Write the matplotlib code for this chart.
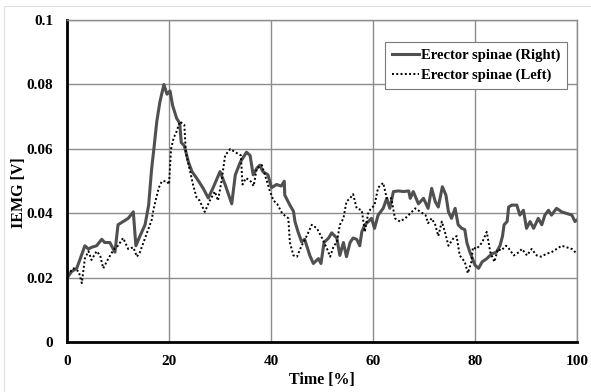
import matplotlib
matplotlib.use('Agg')
import matplotlib.pyplot as plt
from matplotlib.patches import Rectangle

# Erector spinae (Right) - time [%], IEMG [V]
t_right = [0, 0.9, 1.9, 2.6, 3.5, 4.2, 4.8, 5.8, 6.8, 7.4, 8.4, 9.4, 10, 11, 12, 13, 13.5,
           14.3, 15.3, 16, 16.6, 17.1, 17.6, 18.2, 19, 19.6, 20.2, 20.7, 21.5, 22.1, 22.4,
           23, 23.8, 24.5, 25.4, 26.7, 27.7, 28.6, 30, 31, 32.3, 33, 34, 35.2, 35.9, 36.5,
           37.2, 37.8, 38.4, 39.4, 40.1, 41.1, 42, 42.6, 42.7, 43.7, 44.4, 44.7, 45.3, 46,
           46.6, 47.6, 48.3, 49.3, 49.8, 50.4, 51.3, 51.9, 52.9, 53.5, 54.2, 54.8, 55.5,
           56.1, 56.8, 57.4, 57.8, 58.4, 59.1, 59.7, 60.3, 61, 62, 62.7, 63.3, 64, 65, 66,
           67, 67.3, 67.9, 68.9, 69.9, 70.8, 71.5, 72.2, 72.8, 73.6, 74.3, 74.8, 75.4, 76.1,
           76.7, 77.4, 78, 78.4, 79, 80, 80.7, 81.4, 82.3, 83.3, 84.2, 84.9, 85.4, 85.7,
           86.3, 86.6, 87.2, 88.2, 88.8, 89.5, 90.1, 90.8, 91.5, 92.4, 93.1, 93.7, 94.4, 95,
           96, 97, 98, 99, 99.6, 100]
v_right = [0.020, 0.022, 0.023, 0.026, 0.030, 0.029, 0.0295, 0.030, 0.032, 0.031, 0.031,
           0.028, 0.0365, 0.0375, 0.0385, 0.0405, 0.030, 0.033, 0.0365, 0.0425, 0.054, 0.061,
           0.0685, 0.0745, 0.080, 0.077, 0.078, 0.0735, 0.0695, 0.068, 0.062, 0.061, 0.056,
           0.053, 0.051, 0.0478, 0.0448, 0.0478, 0.053, 0.049, 0.043, 0.052, 0.056, 0.059,
           0.058, 0.052, 0.054, 0.055, 0.053, 0.052, 0.048, 0.049, 0.0485, 0.050, 0.0457,
           0.0426, 0.0407, 0.0375, 0.0343, 0.0312, 0.032, 0.027, 0.0245, 0.026, 0.0245, 0.031,
           0.0324, 0.034, 0.0324, 0.027, 0.031, 0.0266, 0.031, 0.0324, 0.032, 0.030, 0.0343,
           0.0365, 0.0375, 0.0385, 0.0354, 0.0395, 0.0416, 0.0447, 0.0416, 0.0468, 0.047,
           0.0468, 0.047, 0.0447, 0.0468, 0.043, 0.0447, 0.0416, 0.0478, 0.0437, 0.042,
           0.0483, 0.0457, 0.0405, 0.0385, 0.0416, 0.0365, 0.0354, 0.035, 0.031, 0.028, 0.024,
           0.023, 0.025, 0.026, 0.0275, 0.028, 0.030, 0.033, 0.0365, 0.0375, 0.042, 0.0426,
           0.0426, 0.0395, 0.041, 0.0354, 0.0375, 0.0354, 0.0385, 0.0365, 0.0395, 0.041,
           0.0395, 0.0416, 0.0405, 0.040, 0.0395, 0.0375, 0.038]

# Erector spinae (Left)
t_left = [0, 1.3, 2.3, 2.9, 3.5, 4.2, 4.8, 5.8, 6.5, 7.1, 8.1, 9.1, 10, 11, 12, 13, 13.7,
          14.3, 15.3, 16, 16.6, 17, 18, 18.6, 19.6, 20, 20.4, 20.9, 21.5, 22.1, 23, 23.3,
          24, 24.7, 25.4, 26, 27, 28, 29, 29.6, 30.3, 31, 32, 33, 34.1, 34.4, 35.1, 36, 36.6,
          37.2, 38.2, 39.2, 39.8, 40.5, 41.2, 42.2, 43.4, 43.7, 44.4, 45.1, 46, 47, 48, 49,
          50, 51, 51.6, 52.3, 52.9, 53.5, 54.2, 54.8, 55.5, 56.1, 56.8, 57.8, 58.4, 59.1,
          59.7, 60.3, 61, 62, 62.7, 63.6, 64.3, 65.3, 66.3, 67.3, 68.3, 69.3, 70.3, 70.8,
          71.5, 72.2, 72.8, 73.5, 74.1, 74.8, 75.8, 76.4, 77, 78, 78.6, 79.3, 79.6, 80.3,
          81.4, 82.3, 83, 83.8, 84.5, 85.1, 86.1, 86.7, 87.6, 88.6, 89.2, 90.2, 91.1, 92.1,
          93, 94, 95, 96, 97, 98, 99, 100]
v_left = [0.021, 0.023, 0.022, 0.0184, 0.026, 0.0283, 0.0256, 0.0283, 0.027, 0.023, 0.026,
          0.0287, 0.030, 0.0324, 0.029, 0.0295, 0.0266, 0.028, 0.0324, 0.0354, 0.038, 0.0416,
          0.048, 0.050, 0.050, 0.049, 0.060, 0.0634, 0.0655, 0.0685, 0.0675, 0.059, 0.054,
          0.049, 0.045, 0.044, 0.0405, 0.044, 0.0468, 0.044, 0.050, 0.058, 0.060, 0.059,
          0.058, 0.049, 0.051, 0.050, 0.0485, 0.054, 0.055, 0.050, 0.0468, 0.044, 0.043,
          0.040, 0.0385, 0.031, 0.027, 0.0266, 0.030, 0.033, 0.0365, 0.0354, 0.0324, 0.029,
          0.0266, 0.030, 0.031, 0.0365, 0.0385, 0.0437, 0.0447, 0.046, 0.0416, 0.041, 0.0343,
          0.0405, 0.0416, 0.0426, 0.048, 0.0495, 0.0447, 0.0447, 0.0385, 0.0375, 0.0385,
          0.040, 0.0416, 0.0405, 0.0395, 0.037, 0.0385, 0.0365, 0.033, 0.0375, 0.0343, 0.030,
          0.0324, 0.033, 0.027, 0.025, 0.0215, 0.025, 0.0295, 0.029, 0.031, 0.0343, 0.028,
          0.025, 0.029, 0.0285, 0.030, 0.029, 0.027, 0.028, 0.029, 0.027, 0.029, 0.027,
          0.0266, 0.0275, 0.028, 0.029, 0.030, 0.0295, 0.029, 0.0275]

x_ticks = [0, 20, 40, 60, 80, 100]
y_ticks = [0, 0.02, 0.04, 0.06, 0.08, 0.1]
y_ticklabels = ['0', '0.02', '0.04', '0.06', '0.08', '0.1']

plt.rcParams['font.family'] = ['Liberation Serif', 'DejaVu Serif']
plt.rcParams['font.weight'] = 'bold'

fig = plt.figure(figsize=(5.91, 3.92), dpi=100)
fig.patches.append(Rectangle((0.007, -0.1), 1.1, 1.085, transform=fig.transFigure,
                             fill=False, edgecolor='#e0e0e0', linewidth=0.8))
ax = fig.add_axes([0.1134, 0.1263, 0.8629, 0.8227])

ax.plot(t_right, v_right, color='#505050', linewidth=2.2, label='Erector spinae (Right)')
ax.plot(t_left, v_left, color='black', linewidth=1.4, linestyle=(0, (1, 1.2)),
        label='Erector spinae (Left)')

ax.set_xlim(0, 100)
ax.set_ylim(0, 0.1)
ax.set_xticks(x_ticks)
ax.set_yticks(y_ticks)
ax.set_yticklabels(y_ticklabels)
ax.tick_params(length=0, labelsize=11)
ax.tick_params(axis='x', pad=9)
ax.tick_params(axis='y', pad=10)
ax.grid(True, color='#8c8c8c', linewidth=1)
ax.set_axisbelow(True)

for s in ['top', 'right']:
    ax.spines[s].set_color('#8c8c8c')
    ax.spines[s].set_linewidth(1)
for s in ['left', 'bottom']:
    ax.spines[s].set_color('black')
    ax.spines[s].set_linewidth(2)

ax.set_xlabel('Time [%]', fontsize=11.5, fontweight='bold')
ax.xaxis.set_label_coords(0.5, -0.093)
ax.set_ylabel('IEMG [V]', fontsize=11.5, fontweight='bold')
ax.yaxis.set_label_coords(-0.079, 0.465)

leg = ax.legend(loc='upper right', bbox_to_anchor=(0.980, 0.932), borderaxespad=0,
                fontsize=10.5, fancybox=False, framealpha=1, edgecolor='#7a7a7a',
                handlelength=1.9, handletextpad=0.1, borderpad=0.45, labelspacing=0.45)
leg.get_frame().set_linewidth(0.8)

fig.savefig('out.png', dpi=100)
